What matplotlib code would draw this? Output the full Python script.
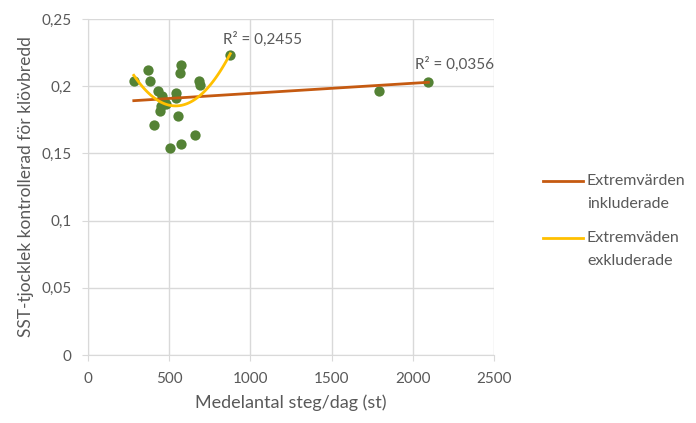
import numpy as np
import matplotlib
matplotlib.use("Agg")
import matplotlib.pyplot as plt
from matplotlib.lines import Line2D

plt.rcParams['font.family'] = ['Lato', 'DejaVu Sans']

# steps per day vs SST thickness
steps = [282, 368, 384, 432, 455, 470, 480, 450, 442, 405, 503, 573, 661, 552,
         544, 544, 575, 565, 682, 692, 876, 1789, 2096]
sst = [0.204, 0.212, 0.204, 0.1965, 0.193, 0.189, 0.187, 0.185, 0.1816, 0.171,
       0.154, 0.157, 0.164, 0.178, 0.195, 0.191, 0.2157, 0.2097, 0.204, 0.2007,
       0.223, 0.1966, 0.2033]
outliers = [1789, 2096]

labels = [['Extremvärden', 'inkluderade'], ['Extremväden', 'exkluderade']]
r2_labels = ['R² = 0,0356', 'R² = 0,2455']

grey = '#595959'
grid_c = '#d9d9d9'

x = np.array(steps, dtype=float)
y = np.array(sst)
keep = ~np.isin(x, outliers)

fig = plt.figure(figsize=(6.96, 4.23), dpi=100)
ax = fig.add_axes([88 / 696, 1 - 355 / 423, 406 / 696, 336 / 423])

ax.scatter(x, y, s=55, color='#548235', zorder=3, linewidths=0)

# linear trend, all points
p1 = np.polyfit(x, y, 1)
xl = np.linspace(x.min(), x.max(), 50)
ax.plot(xl, np.polyval(p1, xl), color='#c55a11', lw=2, zorder=4)

# quadratic trend, outliers removed
p2 = np.polyfit(x[keep], y[keep], 2)
xq = np.linspace(x[keep].min(), x[keep].max(), 100)
ax.plot(xq, np.polyval(p2, xq), color='#ffc000', lw=2, zorder=4)

ax.text(2257, 0.2164, r2_labels[0], color=grey, fontsize=11, ha='center', va='center')
ax.text(1073, 0.235, r2_labels[1], color=grey, fontsize=11, ha='center', va='center')

ax.set_xlim(0, 2500)
ax.set_ylim(0, 0.25)
ax.set_xticks(np.arange(0, 2501, 500))
ax.set_yticks(np.arange(0, 0.2501, 0.05))
ax.set_yticklabels(['0', '0,05', '0,1', '0,15', '0,2', '0,25'])
ax.grid(True, color=grid_c, lw=1)
ax.set_axisbelow(True)
for s in ['top', 'right']:
    ax.spines[s].set_visible(False)
for s in ['left', 'bottom']:
    ax.spines[s].set_color(grid_c)
ax.tick_params(colors=grey, labelsize=11, length=4, color=grid_c)
ax.tick_params(axis='y', pad=8)
ax.tick_params(axis='x', pad=8)

ax.set_xlabel('Medelantal steg/dag (st)', color=grey, fontsize=13, labelpad=6)
ax.set_ylabel('SST-tjocklek kontrollerad för klövbredd', color=grey, fontsize=12.5, labelpad=5)

# legend drawn by hand so the line sits next to the first text row
leg_y = [181, 238]
leg_c = ['#c55a11', '#ffc000']
for lab, py, c in zip(labels, leg_y, leg_c):
    fy = 1 - py / 423
    fig.add_artist(Line2D([543 / 696, 583 / 696], [fy, fy], color=c, lw=2))
    fig.text(587 / 696, fy, lab[0], color=grey, fontsize=11.5, va='center')
    fig.text(587 / 696, fy - 23 / 423, lab[1], color=grey, fontsize=11.5, va='center')

fig.savefig('out.png', dpi=100)
